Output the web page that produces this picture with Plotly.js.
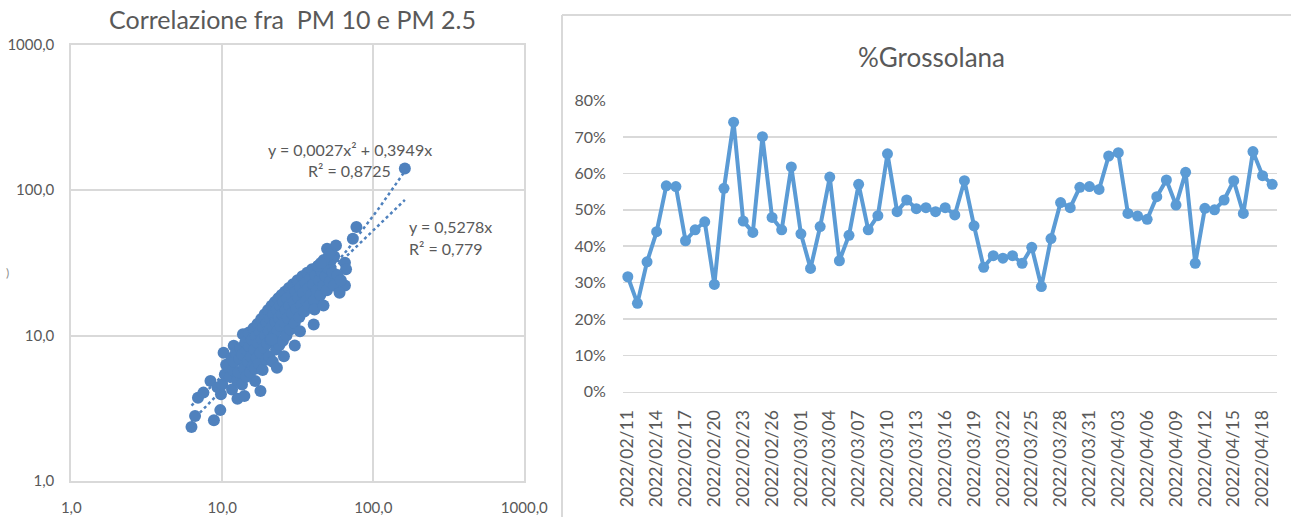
<!DOCTYPE html>
<html>
<head>
<meta charset="utf-8">
<script src="https://cdn.plot.ly/plotly-3.0.1.min.js"></script>
<style>
  html, body { margin: 0; padding: 0; background: #ffffff; }
  #chart { width: 1291px; height: 517px; }
</style>
</head>
<body>
<div id="chart"></div>
<script>
// PM10 / PM2.5 daily pairs (µg/m³)
const pm10 = [
  6.25, 6.6, 6.9, 7.5, 8.35, 8.8, 9.7, 9.8, 9.3, 10.2, 10.0, 10.4, 10.6, 11.0, 11.6, 12.6, 14.0, 11.9, 13.7, 16.5, 17.9,
  11.2, 11.5, 11.8, 12.0, 12.3, 12.5, 12.8, 13.0, 13.2, 13.5, 13.6, 13.9, 14.2, 14.4, 14.6, 14.8,
  15.0, 15.1, 15.3, 15.5, 15.7, 15.9, 16.1, 16.3, 16.5, 16.7, 16.9, 17.1, 17.3, 17.5, 17.7, 17.9, 18.1, 18.3, 18.5, 18.7, 18.9, 19.1, 19.3, 19.5, 19.7, 19.9,
  20.1, 20.3, 20.5, 20.7, 20.9, 21.2, 21.4, 21.6, 21.8, 22.0, 22.3, 22.5, 22.7, 23.0, 23.2, 23.5, 23.7, 23.9, 24.2, 24.4, 24.7, 24.9, 25.2, 25.4, 25.7,
  26.0, 26.3, 26.6, 26.9, 27.2, 27.6, 27.9, 28.2, 28.6, 29.0, 29.4, 29.8, 30.2, 30.6, 31.0, 31.5, 31.9, 32.4, 32.9, 33.4, 33.9, 34.4, 34.9, 35.4, 35.9,
  36.5, 37.0, 37.5, 38.1, 38.7, 39.3, 40.0, 40.7, 41.4, 42.2, 43.0, 43.8, 44.6, 45.5, 46.4, 47.3, 48.3, 49.3, 50.4, 51.5, 52.6, 53.8, 55.0,
  49.4, 56.6, 73.2, 77.3, 161.8, 64.9, 66.0, 64.9, 59.8, 43.1, 40.8, 46.8, 40.3, 30.2, 23.0, 21.2, 32.7, 25.6, 58.0, 61.0, 55.0, 52.0,
  53.0, 51.0, 47.0, 45.0
];
const pm25 = [
  2.35, 2.8, 3.74, 4.05, 4.87, 2.62, 3.07, 3.94, 4.4, 7.6, 4.6, 5.4, 6.3, 6.17, 4.26, 3.68, 3.84, 8.5, 10.2, 4.87, 4.15,
  5.2, 7.0, 5.8, 6.6, 7.6, 4.9, 5.6, 6.9, 8.2, 4.6, 7.4, 6.0, 9.0, 5.2, 7.9, 6.6,
  10.5, 8.4, 5.6, 7.2, 9.4, 6.2, 11.2, 8.0, 5.9, 9.9, 7.0, 12.0, 8.8, 6.4, 10.6, 7.6, 13.0, 9.4, 5.8, 11.4, 8.2, 14.0, 10.0, 6.8, 12.2, 8.8,
  15.0, 10.8, 7.2, 13.0, 9.4, 16.0, 11.6, 6.6, 14.0, 10.0, 17.0, 12.4, 8.0, 15.0, 10.8, 18.0, 13.2, 8.6, 16.0, 11.6, 19.0, 14.0, 9.2, 17.0, 12.4,
  20.0, 15.0, 10.0, 18.0, 13.2, 21.2, 16.0, 11.0, 19.0, 14.2, 22.5, 17.0, 12.2, 20.0, 15.2, 24.0, 18.2, 13.4, 21.5, 16.2, 25.5, 19.5, 14.6, 23.0, 17.4,
  27.0, 21.0, 16.0, 24.5, 19.0, 28.5, 22.5, 17.5, 26.0, 20.5, 30.0, 24.0, 19.0, 27.5, 22.0, 31.0, 25.5, 20.5, 29.0, 23.5, 33.0, 27.0, 22.0,
  39.4, 41.6, 46.2, 55.6, 140.6, 31.6, 28.5, 22.1, 19.7, 30.0, 15.1, 16.1, 11.9, 8.55, 6.0, 9.4, 10.7, 7.2, 26.0, 24.0, 35.0, 37.0,
  33.5, 36.0, 33.0, 31.5
];

// Fitted trendline coefficients (as printed on the chart)
const polyA = 0.0027, polyB = 0.3949, polyR2 = '0,8725';
const linA = 0.5278, linR2 = '0,779';

// Log axis ticks
const logTicks = [1, 10, 100, 1000];
const logTickText = ['1,0', '10,0', '100,0', '1000,0'];

// Daily coarse fraction share (%)
const dates = [
  '2022/02/11','2022/02/12','2022/02/13','2022/02/14','2022/02/15','2022/02/16','2022/02/17','2022/02/18','2022/02/19','2022/02/20',
  '2022/02/21','2022/02/22','2022/02/23','2022/02/24','2022/02/25','2022/02/26','2022/02/27','2022/02/28','2022/03/01','2022/03/02',
  '2022/03/03','2022/03/04','2022/03/05','2022/03/06','2022/03/07','2022/03/08','2022/03/09','2022/03/10','2022/03/11','2022/03/12',
  '2022/03/13','2022/03/14','2022/03/15','2022/03/16','2022/03/17','2022/03/18','2022/03/19','2022/03/20','2022/03/21','2022/03/22',
  '2022/03/23','2022/03/24','2022/03/25','2022/03/26','2022/03/27','2022/03/28','2022/03/29','2022/03/30','2022/03/31','2022/04/01',
  '2022/04/02','2022/04/03','2022/04/04','2022/04/05','2022/04/06','2022/04/07','2022/04/08','2022/04/09','2022/04/10','2022/04/11',
  '2022/04/12','2022/04/13','2022/04/14','2022/04/15','2022/04/16','2022/04/17','2022/04/18','2022/04/19'
];
const grossolana = [
  31.6, 24.3, 35.7, 44.0, 56.6, 56.4, 41.5, 44.5, 46.7, 29.5,
  55.9, 74.1, 46.9, 43.8, 70.1, 47.9, 44.5, 61.8, 43.4, 33.9,
  45.4, 59.0, 36.0, 43.0, 57.0, 44.5, 48.4, 65.4, 49.5, 52.7,
  50.3, 50.6, 49.5, 50.6, 48.6, 58.0, 45.6, 34.2, 37.4, 36.7,
  37.4, 35.3, 39.7, 28.9, 42.1, 52.0, 50.6, 56.2, 56.4, 55.6,
  64.8, 65.7, 49.0, 48.3, 47.4, 53.6, 58.2, 51.3, 60.3, 35.3,
  50.4, 50.0, 52.7, 58.0, 49.0, 66.0, 59.4, 57.0
];
const pctTicks = [0, 10, 20, 30, 40, 50, 60, 70, 80];
const pctTickText = ['0%', '10%', '20%', '30%', '40%', '50%', '60%', '70%', '80%'];

// ---------- layout helpers (figure is laid out in pixels) ----------
const W = 1291, H = 517;
const px = v => v / W;
const py = v => 1 - v / H;

const FONT = 'Lato, "Open Sans", sans-serif';
const TXT = '#595959';
const GRID = '#d9d9d9';
const SC_BLUE = '#4f81bd';
const LN_BLUE = '#5b9bd5';

// Trendlines sampled across the data's x extent
const xMin = Math.min(...pm10), xMax = Math.max(...pm10);
const tx = [];
for (let i = 0; i <= 80; i++) {
  tx.push(Math.pow(10, Math.log10(xMin) + (Math.log10(xMax) - Math.log10(xMin)) * i / 80));
}
const polyY = tx.map(x => polyA * x * x + polyB * x);
const linY = tx.map(x => linA * x);

const traces = [
  {
    x: tx, y: polyY, xaxis: 'x', yaxis: 'y', type: 'scatter', mode: 'lines',
    line: { color: SC_BLUE, width: 2.5, dash: 'dot' }, hoverinfo: 'skip'
  },
  {
    x: tx, y: linY, xaxis: 'x', yaxis: 'y', type: 'scatter', mode: 'lines',
    line: { color: SC_BLUE, width: 2.5, dash: 'dot' }, hoverinfo: 'skip'
  },
  {
    x: pm10, y: pm25, xaxis: 'x', yaxis: 'y', type: 'scatter', mode: 'markers',
    marker: { color: SC_BLUE, size: 12, line: { width: 0 } }, cliponaxis: false
  },
  {
    x: dates, y: grossolana, xaxis: 'x2', yaxis: 'y2', type: 'scatter', mode: 'lines+markers',
    line: { color: LN_BLUE, width: 4 },
    marker: { color: LN_BLUE, size: 11 }, cliponaxis: false
  }
];

const layout = {
  width: W, height: H,
  margin: { l: 0, r: 0, t: 0, b: 0, pad: 0 },
  paper_bgcolor: '#ffffff', plot_bgcolor: '#ffffff',
  showlegend: false,
  font: { family: FONT, color: TXT, size: 14 },
  xaxis: {
    type: 'log', range: [0, 3], domain: [px(71.3), px(524.3)], anchor: 'y',
    tickvals: logTicks, ticktext: logTickText,
    showgrid: true, gridcolor: GRID, gridwidth: 2,
    showline: true, linecolor: GRID, linewidth: 2, mirror: true,
    zeroline: false, ticks: 'outside', ticklen: 12, tickcolor: 'rgba(0,0,0,0)',
    tickfont: { family: FONT, size: 15, color: TXT }
  },
  yaxis: {
    type: 'log', range: [0, 3], domain: [py(481), py(44.5)], anchor: 'x',
    tickvals: logTicks, ticktext: logTickText,
    showgrid: true, gridcolor: GRID, gridwidth: 2,
    showline: true, linecolor: GRID, linewidth: 2, mirror: true,
    zeroline: false, ticks: 'outside', ticklen: 12, tickcolor: 'rgba(0,0,0,0)',
    tickfont: { family: FONT, size: 15, color: TXT }
  },
  xaxis2: {
    type: 'category', range: [-0.5, dates.length - 0.5], domain: [px(623), px(1277)], anchor: 'y2',
    tickvals: dates.filter((d, i) => i % 3 === 0), tickangle: -90,
    showgrid: false, showline: true, linecolor: GRID, linewidth: 1.5,
    zeroline: false, ticks: 'outside', ticklen: 10, tickcolor: 'rgba(0,0,0,0)',
    tickfont: { family: FONT, size: 17.5, color: TXT }
  },
  yaxis2: {
    range: [0, 80], domain: [py(391.7), py(100.7)], anchor: 'x2',
    tickvals: pctTicks, ticktext: pctTickText,
    showgrid: true, gridcolor: GRID, gridwidth: 1.5,
    zeroline: false, showline: false, ticks: 'outside', ticklen: 13, tickcolor: 'rgba(0,0,0,0)',
    tickfont: { family: FONT, size: 16, color: TXT }
  },
  shapes: [
    { type: 'line', xref: 'paper', yref: 'paper', x0: px(562), x1: 1, y0: py(15), y1: py(15), line: { color: GRID, width: 2 } },
    { type: 'line', xref: 'paper', yref: 'paper', x0: px(562), x1: px(562), y0: py(15), y1: 0, line: { color: GRID, width: 2 } }
  ],
  annotations: [
    { xref: 'paper', yref: 'paper', x: px(292), y: py(19), xanchor: 'center', yanchor: 'middle', showarrow: false,
      text: 'Correlazione fra  PM 10 e PM 2.5', font: { family: FONT, size: 25, color: TXT } },
    { xref: 'paper', yref: 'paper', x: px(931), y: py(57), xanchor: 'center', yanchor: 'middle', showarrow: false,
      text: '%Grossolana', font: { family: FONT, size: 26, color: TXT } },
    { xref: 'paper', yref: 'paper', x: px(350), y: py(149), xanchor: 'center', yanchor: 'middle', showarrow: false,
      text: 'y = ' + String(polyA).replace('.', ',') + 'x² + ' + String(polyB).replace('.', ',') + 'x',
      font: { family: FONT, size: 16, color: TXT } },
    { xref: 'paper', yref: 'paper', x: px(350), y: py(171), xanchor: 'center', yanchor: 'middle', showarrow: false,
      text: 'R² = ' + polyR2, font: { family: FONT, size: 16, color: TXT } },
    { xref: 'paper', yref: 'paper', x: px(450), y: py(227), xanchor: 'center', yanchor: 'middle', showarrow: false,
      text: 'y = ' + String(linA).replace('.', ',') + 'x', font: { family: FONT, size: 16, color: TXT } },
    { xref: 'paper', yref: 'paper', x: px(446), y: py(248), xanchor: 'center', yanchor: 'middle', showarrow: false,
      text: 'R² = ' + linR2, font: { family: FONT, size: 16, color: TXT } },
    { xref: 'paper', yref: 'paper', x: px(4), y: py(272), xanchor: 'left', yanchor: 'middle', showarrow: false,
      text: ')', font: { family: FONT, size: 12, color: '#8c8c8c' } }
  ]
};

Plotly.newPlot('chart', traces, layout, { staticPlot: true, displayModeBar: false });
</script>
</body>
</html>
